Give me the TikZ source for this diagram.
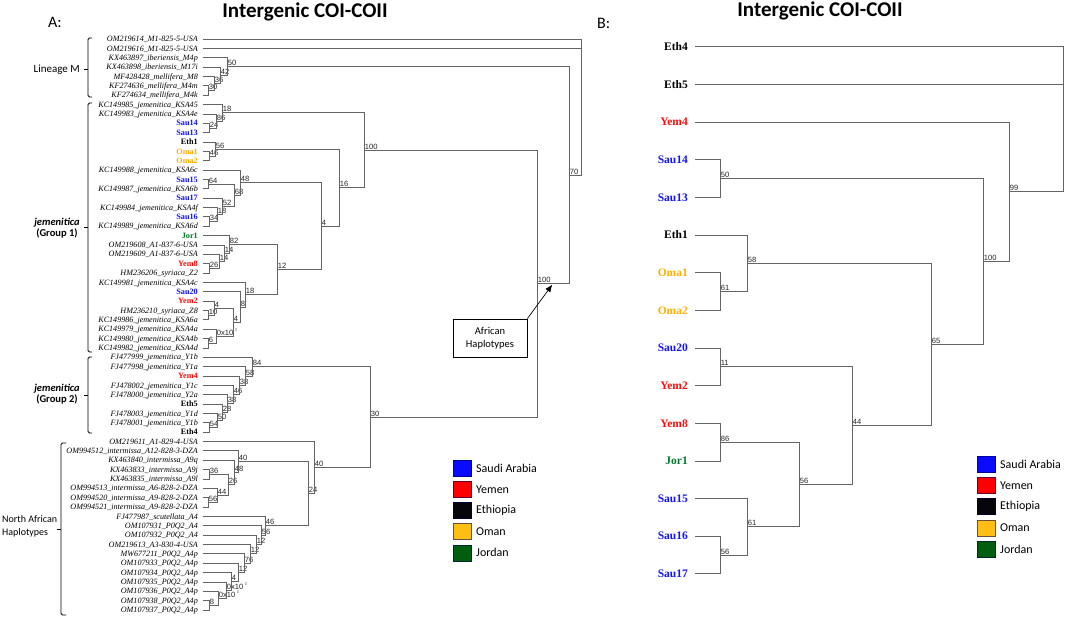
\documentclass[tikz,border=0pt]{standalone}
\usepackage{fontspec}
\setmainfont{Liberation Serif}
\newfontfamily\calfont{Carlito}
\newfontfamily\helfont{Liberation Sans}
\usetikzlibrary{calc,arrows.meta}
\definecolor{sauC}{RGB}{20,20,245}
\definecolor{yemC}{RGB}{245,15,15}
\definecolor{omaC}{RGB}{255,176,0}
\definecolor{jorC}{RGB}{0,120,40}
\definecolor{lineC}{RGB}{100,100,100}
\definecolor{sauL}{RGB}{10,10,255}
\definecolor{yemL}{RGB}{255,0,0}
\definecolor{ethL}{RGB}{5,5,10}
\definecolor{omaL}{RGB}{255,190,20}
\definecolor{jorL}{RGB}{0,95,15}
\newcommand\phynode[5]{%
  \path let \p1=(#3), \p2=(#4) in (#2pt,{(\y1+\y2)/2}) coordinate (#1);
  \draw[br] (#3) -| (#1);
  \draw[br] (#4) -| (#1);
  \node[sup] (#1-l) at (#1) {#5};
}
\newcommand\zx{0x10\hspace{1.5pt}\raisebox{3.5pt}{\textcolor{gray}{\fontsize{4.5}{4.5}\selectfont 0}}}
\begin{document}
\begin{tikzpicture}[x=1pt,y=-1pt,
  br/.style={draw=lineC,line width=0.7pt},
  sup/.style={anchor=south west,inner sep=0.6pt,font=\helfont\fontsize{7.6}{7.6}\selectfont,text=black!85},
  leafA/.style={anchor=east,inner xsep=5pt,inner ysep=0pt,text height=5.4pt,text depth=0pt},
  leafB/.style={anchor=east,inner xsep=7pt,inner ysep=0pt,text height=7.6pt,text depth=0pt},
  ia/.style={font=\fontsize{8.1}{8.1}\selectfont\itshape},
  sa/.style={font=\fontsize{8.2}{8.2}\selectfont\bfseries,text=sauC},
  ya/.style={font=\fontsize{8.2}{8.2}\selectfont\bfseries,text=yemC},
  ea/.style={font=\fontsize{8.2}{8.2}\selectfont\bfseries,text=black},
  oa/.style={font=\fontsize{8.2}{8.2}\selectfont\bfseries,text=omaC},
  ja/.style={font=\fontsize{8.2}{8.2}\selectfont\bfseries,text=jorC},
  sb/.style={font=\fontsize{11.5}{11.5}\selectfont\bfseries,text=sauC},
  yb/.style={font=\fontsize{11.5}{11.5}\selectfont\bfseries,text=yemC},
  eb/.style={font=\fontsize{11.5}{11.5}\selectfont\bfseries,text=black},
  ob/.style={font=\fontsize{11.5}{11.5}\selectfont\bfseries,text=omaC},
  jb/.style={font=\fontsize{11.5}{11.5}\selectfont\bfseries,text=jorC},
  brk/.style={draw=black,line width=0.8pt,rounded corners=1.5pt},
  grp/.style={font=\calfont\fontsize{10.5}{11.5}\selectfont,align=center,inner sep=0pt},
  ttl/.style={font=\calfont\bfseries\fontsize{21}{21}\selectfont,anchor=base,inner sep=0pt},
  pan/.style={font=\calfont\fontsize{16}{16}\selectfont,anchor=base west,inner sep=0pt},
  sq/.style={minimum width=18pt,minimum height=16pt,inner sep=0pt,line width=0.6pt},
  lt/.style={font=\calfont\fontsize{12}{12}\selectfont,anchor=west,inner sep=0pt}
]
\useasboundingbox (0,0) rectangle (1065,620);
\fill[white] (0,0) rectangle (1065,620);

% ---------- titles ----------
\node[pan] (pA) at (48,28) {A:};
\node[pan] (pB) at (597,29) {B:};
\node[ttl] (tA) at (305,18) {Intergenic COI-COII};
\node[ttl] (tB) at (820,17) {Intergenic COI-COII};

% ---------- panel A leaves ----------
\foreach \i/\t/\s in {
0/OM219614\_M1-825-5-USA/ia,
1/OM219616\_M1-825-5-USA/ia,
2/KX463897\_iberiensis\_M4p/ia,
3/KX463898\_iberiensis\_M17i/ia,
4/MF428428\_mellifera\_M8/ia,
5/KF274636\_mellifera\_M4m/ia,
6/KF274634\_mellifera\_M4k/ia,
7/KC149985\_jemenitica\_KSA45/ia,
8/KC149983\_jemenitica\_KSA4e/ia,
9/Sau14/sa,
10/Sau13/sa,
11/Eth1/ea,
12/Oma1/oa,
13/Oma2/oa,
14/KC149988\_jemenitica\_KSA6c/ia,
15/Sau15/sa,
16/KC149987\_jemenitica\_KSA6b/ia,
17/Sau17/sa,
18/KC149984\_jemenitica\_KSA4f/ia,
19/Sau16/sa,
20/KC149989\_jemenitica\_KSA6d/ia,
21/Jor1/ja,
22/OM219608\_A1-837-6-USA/ia,
23/OM219609\_A1-837-6-USA/ia,
24/Yem8/ya,
25/HM236206\_syriaca\_Z2/ia,
26/KC149981\_jemenitica\_KSA4c/ia,
27/Sau20/sa,
28/Yem2/ya,
29/HM236210\_syriaca\_Z8/ia,
30/KC149986\_jemenitica\_KSA6a/ia,
31/KC149979\_jemenitica\_KSA4a/ia,
32/KC149980\_jemenitica\_KSA4b/ia,
33/KC149982\_jemenitica\_KSA4d/ia,
34/FJ477999\_jemenitica\_Y1b/ia,
35/FJ477998\_jemenitica\_Y1a/ia,
36/Yem4/ya,
37/FJ478002\_jemenitica\_Y1c/ia,
38/FJ478000\_jemenitica\_Y2a/ia,
39/Eth5/ea,
40/FJ478003\_jemenitica\_Y1d/ia,
41/FJ478001\_jemenitica\_Y1b/ia,
42/Eth4/ea,
43/OM219611\_A1-829-4-USA/ia,
44/OM994512\_intermissa\_A12-828-3-DZA/ia,
45/KX463840\_intermissa\_A9q/ia,
46/KX463833\_intermissa\_A9j/ia,
47/KX463835\_intermissa\_A9l/ia,
48/OM994513\_intermissa\_A6-828-2-DZA/ia,
49/OM994520\_intermissa\_A9-828-2-DZA/ia,
50/OM994521\_intermissa\_A9-828-2-DZA/ia,
51/FJ477987\_scutellata\_A4/ia,
52/OM107931\_P0Q2\_A4/ia,
53/OM107932\_P0Q2\_A4/ia,
54/OM219613\_A3-830-4-USA/ia,
55/MW677211\_P0Q2\_A4p/ia,
56/OM107933\_P0Q2\_A4p/ia,
57/OM107934\_P0Q2\_A4p/ia,
58/OM107935\_P0Q2\_A4p/ia,
59/OM107936\_P0Q2\_A4p/ia,
60/OM107938\_P0Q2\_A4p/ia,
61/OM107937\_P0Q2\_A4p/ia}
  \node[leafA,\s] (a\i) at (203,{39+9.36*\i}) {\t};

% ---------- panel A tree ----------
% lineage M
\phynode{m30}{208}{a5}{a6}{30}
\phynode{m36}{214}{a4}{m30}{36}
\phynode{m42}{220}{a3}{m36}{42}
\phynode{m50}{227}{a2}{m42}{50}
% group 1
\phynode{g24}{209}{a9}{a10}{24}
\phynode{g86}{216}{a8}{g24}{86}
\phynode{g18}{222}{a7}{g86}{18}
\phynode{g46}{209}{a12}{a13}{46}
\phynode{g56}{215}{a11}{g46}{56}
\phynode{g64}{208}{a15}{a16}{64}
\phynode{g34}{209}{a19}{a20}{34}
\phynode{g18b}{217}{a18}{g34}{18}
\phynode{g52}{222}{a17}{g18b}{52}
\phynode{g68}{234}{g64}{g52}{68}
\phynode{g48}{240}{a14}{g68}{48}
\phynode{g26}{209}{a24}{a25}{26}
\phynode{g14b}{219}{a23}{g26}{14}
\phynode{g14a}{224}{a22}{g14b}{14}
\phynode{g82}{229}{a21}{g14a}{82}
\phynode{g10}{208}{a29}{a30}{10}
\phynode{g4c}{214}{a28}{g10}{4}
\phynode{g6}{208}{a32}{a33}{6}
\phynode{g0a}{216}{a31}{g6}{\zx}
\phynode{g4b}{233}{g4c}{g0a}{4}
\phynode{g8}{240}{a27}{g4b}{8}
\phynode{g18c}{245}{a26}{g8}{18}
\phynode{g12}{277}{g82}{g18c}{12}
\phynode{g4}{321}{g48}{g12}{4}
\phynode{g16}{339}{g56}{g4}{16}
\phynode{g100}{364}{g18}{g16}{100}
% group 2
\phynode{h54}{209}{a41}{a42}{54}
\phynode{h50}{217}{a40}{h54}{50}
\phynode{h28}{222}{a39}{h50}{28}
\phynode{h38a}{227}{a38}{h28}{38}
\phynode{h46}{233}{a37}{h38a}{46}
\phynode{h38b}{239}{a36}{h46}{38}
\phynode{h58}{245}{a35}{h38b}{58}
\phynode{h84}{252}{a34}{h58}{84}
% north african
\phynode{n36}{209}{a46}{a47}{36}
\phynode{n56}{208}{a49}{a50}{56}
\phynode{n44}{217}{a48}{n56}{44}
\phynode{n26}{228}{n36}{n44}{26}
\phynode{n48}{234}{a45}{n26}{48}
\phynode{n40b}{238}{a44}{n48}{40}
\phynode{n8}{209}{a60}{a61}{8}
\phynode{n0c}{218}{a59}{n8}{\zx}
\phynode{n0b}{226}{a58}{n0c}{\zx}
\phynode{n4}{231}{a57}{n0b}{4}
\phynode{n12c}{238}{a56}{n4}{12}
\phynode{n76}{244}{a55}{n12c}{76}
\phynode{n12b}{250}{a54}{n76}{12}
\phynode{n12a}{256}{a53}{n12b}{12}
\phynode{n56c}{261}{a52}{n12a}{56}
\phynode{n46}{265}{a51}{n56c}{46}
\phynode{n24}{308}{n40b}{n46}{24}
\phynode{n40}{314}{a43}{n24}{40}
\phynode{n30}{370}{h84}{n40}{30}
\phynode{b100}{537}{g100}{n30}{100}
\phynode{m70}{569}{m50}{b100}{70}
\coordinate (rA) at (581,100);
\draw[br] (a0) -| (rA);
\draw[br] (a1) -| (rA);
\draw[br] (m70) -| (rA);

% ---------- brackets and group labels ----------
\draw[brk] (92,38) -- (88,38) -- (88,97) -- (92,97);
\draw[brk] (88,69) -- (84,69);
\node[grp,anchor=east] (lmL) at (80,70) {\fontsize{11}{12}\selectfont Lineage M};
\draw[brk] (92,103) -- (88,103) -- (88,352) -- (92,352);
\draw[brk] (88,227) -- (84,227);
\node[grp] (g1L) at (57,228) {\bfseries\itshape jemenitica\\\bfseries (Group 1)};
\draw[brk] (92,357) -- (88,357) -- (88,433) -- (92,433);
\draw[brk] (88,395) -- (84,395);
\node[grp] (g2L) at (57,394) {\bfseries\itshape jemenitica\\\bfseries (Group 2)};
\draw[brk] (66,443) -- (61,443) -- (61,615) -- (66,615);
\draw[brk] (61,529) -- (57,529);
\node[grp,anchor=west,align=left,font=\calfont\fontsize{10}{13}\selectfont] (naL) at (2,526) {North African\\Haplotypes};

% ---------- African haplotypes callout ----------
\node[draw,line width=0.8pt,minimum width=74pt,minimum height=38pt,align=center,
      font=\calfont\fontsize{10.5}{13}\selectfont] (afr) at (490,338) {African\\Haplotypes};
\coordinate (afrTip) at (552,285);
\draw[line width=0.7pt,-{Triangle[length=7pt,width=5.5pt]}] (afr.north east) -- (afrTip);

% ---------- legend A ----------
\foreach \k/\c/\t in {0/sauL/Saudi Arabia,1/yemL/Yemen,2/ethL/Ethiopia,3/omaL/Oman,4/jorL/Jordan}{
  \node[sq,fill=\c,draw=\c!70!blue!60!black] (la\k) at (462.5,{468+21.2*\k}) {};
  \node[lt] (lta\k) at (476,{468+21.2*\k}) {\t};
}

% ---------- panel B leaves ----------
\foreach \i/\t/\s in {0/Eth4/eb,1/Eth5/eb,2/Yem4/yb,3/Sau14/sb,4/Sau13/sb,5/Eth1/eb,6/Oma1/ob,7/Oma2/ob,
  8/Sau20/sb,9/Yem2/yb,10/Yem8/yb,11/Jor1/jb,12/Sau15/sb,13/Sau16/sb,14/Sau17/sb}
  \node[leafB,\s] (b\i) at (695,{46.7+37.65*\i}) {\t};

% ---------- panel B tree ----------
\phynode{q50}{720}{b3}{b4}{50}
\phynode{q61}{720}{b6}{b7}{61}
\phynode{q58}{747}{b5}{q61}{58}
\phynode{q11}{720}{b8}{b9}{11}
\phynode{q86}{720}{b10}{b11}{86}
\phynode{q56b}{720}{b13}{b14}{56}
\phynode{q61b}{747}{b12}{q56b}{61}
\phynode{q56}{799}{q86}{q61b}{56}
\phynode{q44}{852}{q11}{q56}{44}
\phynode{q65}{931}{q58}{q44}{65}
\phynode{q100}{983}{q50}{q65}{100}
\phynode{q99}{1009}{b2}{q100}{99}
\coordinate (rB) at (1063,120);
\draw[br] (b0) -| (rB);
\draw[br] (b1) -| (rB);
\draw[br] (q99) -| (rB);

% ---------- legend B ----------
\foreach \k/\c/\t in {0/sauL/Saudi Arabia,1/yemL/Yemen,2/ethL/Ethiopia,3/omaL/Oman,4/jorL/Jordan}{
  \node[sq,fill=\c,draw=\c!70!blue!60!black] (lb\k) at (986,{464.5+21.1*\k}) {};
  \node[lt] (ltb\k) at (1000,{464.5+21.1*\k}) {\t};
}
\end{tikzpicture}
\end{document}
